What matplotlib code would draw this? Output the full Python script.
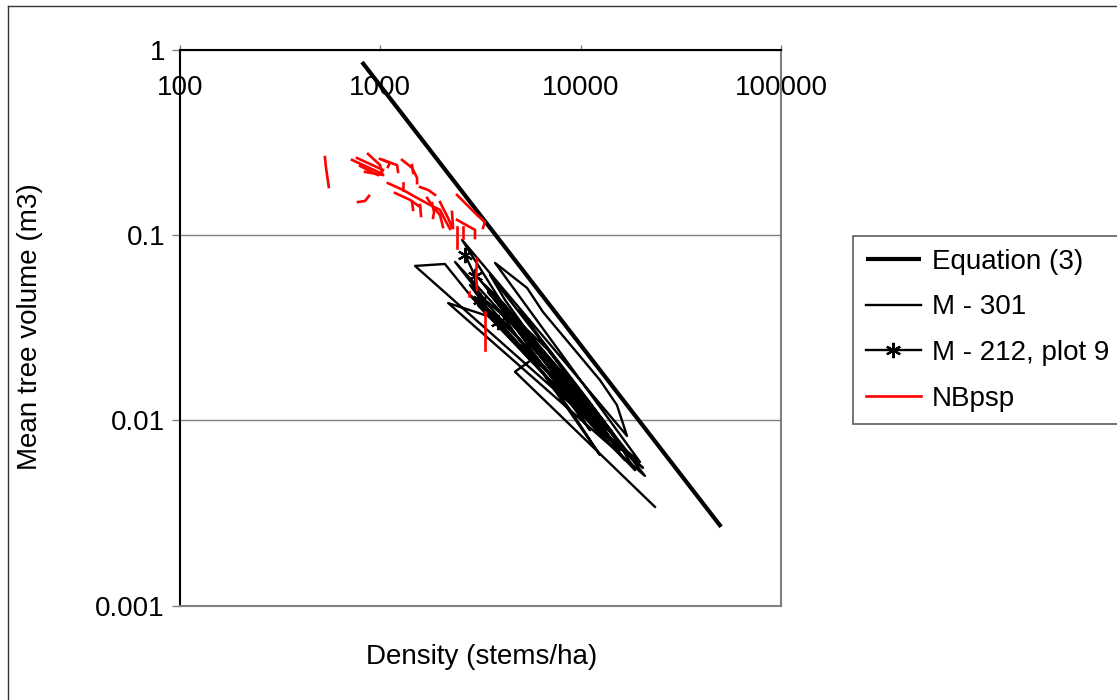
import matplotlib
matplotlib.use("Agg")
import matplotlib.pyplot as plt
from matplotlib.lines import Line2D

plt.rcParams['font.family'] = ['Liberation Sans', 'DejaVu Sans']

# Osie
x_ticks = [100, 1000, 10000, 100000]
x_tick_labels = ['100', '1000', '10000', '100000']
y_ticks = [0.001, 0.01, 0.1, 1]
y_tick_labels = ['0.001', '0.01', '0.1', '1']

# Equation (3) - dwa punkty końcowe prostej
eq_density = [810, 50230]
eq_volume = [0.861, 0.00266]

# M - 301 (jedna seria, kolejne powierzchnie połączone)
m301_density = [23480, 4700, 5780, 2800, 2100, 1490,
                20460, 12480, 7880, 4980, 3960, 2180,
                20930, 13220, 8850, 5910, 3960, 2560,
                17030, 15170, 12480, 6480, 5400, 3740,
                19770, 11130, 7450, 4980, 3530, 2800,
                15710, 9920, 7030, 4980, 3330, 2360,
                12480, 9370, 6870, 4700, 3140,
                14010, 10500, 7880, 5590, 4190, 3530,
                17620, 11790, 8350, 6120, 4440, 3450,
                14830, 11130, 8070, 5590, 3960,
                12480, 8850, 6640, 4540, 3070,
                16630, 12480, 9370, 7190, 5270, 4190, 3330,
                13220, 10150, 7700, 5910, 4700, 3740,
                11130, 8850, 6870, 5270, 4100, 2800,
                18660, 14330, 10870, 8350, 6270, 4980]
m301_volume = [0.00341, 0.0183, 0.0215, 0.0475, 0.0699, 0.0682,
               0.00554, 0.00885, 0.0155, 0.0272, 0.0348, 0.0430,
               0.00501, 0.00944, 0.0155, 0.0255, 0.0447, 0.0942,
               0.00824, 0.0121, 0.0165, 0.0385, 0.0519, 0.0708,
               0.00596, 0.0100, 0.0165, 0.0255, 0.0385, 0.0538,
               0.00690, 0.0129, 0.0199, 0.0308, 0.0447, 0.0717,
               0.0100, 0.0155, 0.0240, 0.0357, 0.0573,
               0.00781, 0.0129, 0.0187, 0.0289, 0.0447, 0.0610,
               0.00650, 0.0107, 0.0169, 0.0246, 0.0357, 0.0493,
               0.00737, 0.01167, 0.0183, 0.0265, 0.0385,
               0.00650, 0.0114, 0.0176, 0.0272, 0.0420,
               0.00609, 0.00944, 0.01423, 0.0207, 0.0308, 0.0420, 0.0538,
               0.00781, 0.01167, 0.0169, 0.0240, 0.0327, 0.0447,
               0.00885, 0.0129, 0.0183, 0.0255, 0.0340, 0.0475,
               0.00538, 0.00866, 0.0129, 0.0187, 0.0279, 0.0395]

# M - 212, plot 9
m212_density = [2648, 2970, 3146, 3870]
m212_volume = [0.0782, 0.0602, 0.0447, 0.0340]

# NBpsp - krótkie odcinki
nb_density = [
    [529, 535, 553], [774, 839, 878], [722, 997], [765, 1031],
    [868, 997, 1020], [839, 1031], [997, 1116, 1091], [1031, 1212, 1226],
    [1283, 1440, 1525, 1525], [1440, 1457],
    [1091, 1297, 1525, 1771, 1986, 2103, 2228],
    [1578, 1731, 1876], [1184, 1408, 1578], [1297, 1297], [1440, 1457],
    [1578, 1596], [1711, 1833, 1986, 2055], [1812, 1854, 1833],
    [1986, 2055, 2177, 2279], [2279, 2306], [2414, 2969, 2969],
    [2586, 2586], [2414, 2709, 3039, 3329, 3254], [2414, 2414],
    [3039, 3004, 3039], [2773, 2773], [3329, 3329], [792, 972],
]
nb_volume = [
    [0.264, 0.2335, 0.182], [0.151, 0.153, 0.163], [0.255, 0.217], [0.261, 0.225],
    [0.2745, 0.239, 0.217], [0.2195, 0.2114], [0.258, 0.2455, 0.2335], [0.255, 0.239, 0.2195],
    [0.255, 0.231, 0.204, 0.191], [0.239, 0.217],
    [0.191, 0.1755, 0.159, 0.1456, 0.137, 0.121, 0.108],
    [0.182, 0.1755, 0.165], [0.169, 0.155, 0.142], [0.191, 0.1755], [0.151, 0.137],
    [0.1456, 0.127], [0.159, 0.142, 0.1285, 0.1107], [0.149, 0.1335, 0.124],
    [0.151, 0.140, 0.124, 0.1107], [0.1335, 0.1094], [0.121, 0.1067, 0.0966],
    [0.1107, 0.0966], [0.165, 0.1456, 0.1285, 0.1178, 0.1094], [0.1107, 0.0853],
    [0.0744, 0.0595, 0.0506], [0.0493, 0.0469], [0.0385, 0.0240], [0.2365, 0.2114],
]

FS = 20

fig = plt.figure(figsize=(11.17, 7.0), dpi=100)
ax = fig.add_axes([180 / 1117, 1 - 605.5 / 700, 601 / 1117, 555.5 / 700])
ax.set_xscale('log')
ax.set_yscale('log')
ax.set_xlim(100, 100000)
ax.set_ylim(0.001, 1)

ax.plot(eq_density, eq_volume, color='black', lw=3, solid_capstyle='butt', label='Equation (3)')
ax.plot(m301_density, m301_volume, color='black', lw=1.7, label='M - 301')
ax.plot(m212_density, m212_volume, color='black', lw=1.7, marker=(6, 2, 0),
        markersize=11, markeredgewidth=1.6, label='M - 212, plot 9')
for i, (d, v) in enumerate(zip(nb_density, nb_volume)):
    ax.plot(d, v, color='red', lw=1.9, label='NBpsp' if i == 0 else None)

# Siatka i osie
ax.set_xticks(x_ticks, x_tick_labels)
ax.set_yticks(y_ticks, y_tick_labels)
ax.minorticks_off()
ax.yaxis.grid(True, color='#808080', lw=1)
ax.set_axisbelow(True)
ax.tick_params(axis='x', top=True, bottom=False, labeltop=True, labelbottom=False,
               direction='out', length=3.6, width=1, color='#808080',
               pad=-40.5, labelsize=FS)
ax.tick_params(axis='y', direction='out', length=5.8, width=1, color='#808080',
               pad=5, labelsize=FS)
for s in ['left', 'top']:
    ax.spines[s].set_color('black')
    ax.spines[s].set_linewidth(1.5)
for s in ['right', 'bottom']:
    ax.spines[s].set_color('#808080')
    ax.spines[s].set_linewidth(1.5)

fig.text(30 / 1117, 1 - 327 / 700, 'Mean tree volume (m3)', rotation=90,
         ha='center', va='center', fontsize=FS)
fig.text(482 / 1117, 1 - 657 / 700, 'Density (stems/ha)', ha='center', va='center', fontsize=FS)

leg = fig.legend(loc='upper left', bbox_to_anchor=(853 / 1117, 1 - 236 / 700),
                 fontsize=FS, frameon=True, fancybox=False, shadow=False,
                 handlelength=2.0, handletextpad=0.4, labelspacing=0.71,
                 borderpad=0.45, borderaxespad=0)
leg.get_frame().set_edgecolor('#333333')
leg.get_frame().set_linewidth(1.2)

# Ramka wykresu
fig.add_artist(Line2D([8 / 1117, 8 / 1117], [0, 1 - 6 / 700], color='#333333', lw=1))
fig.add_artist(Line2D([8 / 1117, 1], [1 - 6 / 700, 1 - 6 / 700], color='#333333', lw=1))

fig.savefig('out.png', dpi=100)
